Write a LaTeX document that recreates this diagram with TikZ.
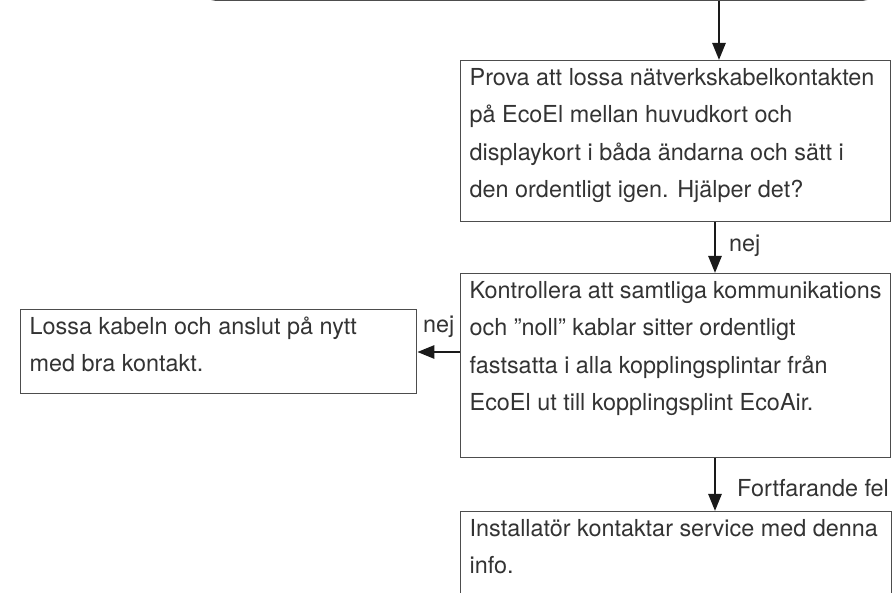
\documentclass[tikz,border=0pt]{standalone}
\usepackage{fontspec}
\setmainfont{TeX Gyre Heros}
\usetikzlibrary{arrows.meta,calc}
\definecolor{txtc}{HTML}{333333}
\definecolor{linec}{HTML}{4D4D4D}
\definecolor{arrc}{HTML}{1A1A1A}
\newcommand\boxcontent[3]{\parbox[t][#2][t]{#1}{\raggedright\rule{0pt}{24.5pt}#3}}
\begin{document}
\begin{tikzpicture}[x=1pt,y=-1pt,
  flowbox/.style={draw=linec, line width=1.3pt, rectangle, inner xsep=9pt, inner ysep=0pt,
    anchor=north west, text=txtc, font=\fontsize{23.4}{37.5}\selectfont},
  topbox/.style={draw=linec, line width=2.4pt, rectangle, rounded corners=12pt, inner sep=0pt,
    minimum width=670pt, minimum height=60pt, anchor=south west},
  arr/.style={draw=arrc, line width=2.6pt, -{Triangle[length=17pt,width=13pt]}},
  lbl/.style={anchor=base west, inner sep=0pt, text=txtc, font=\fontsize{23.4}{37.5}\selectfont}]
\useasboundingbox (0,0) rectangle (895,593);
\clip (0,0) rectangle (895,593);

\node[topbox] (top) at (203,1) {};

\node[flowbox] (b1) at (460,60) {\boxcontent{412pt}{161pt}{Prova att lossa nätverkskabelkontakten\\
på EcoEl mellan huvudkort och\\
displaykort i båda ändarna och sätt i\\
den ordentligt igen. Hjälper det?}};

\node[flowbox] (b2) at (460,273) {\boxcontent{412pt}{184pt}{Kontrollera att samtliga kommunikations\\
och ”noll” kablar sitter ordentligt\\
fastsatta i alla kopplingsplintar från\\
EcoEl ut till kopplingsplint EcoAir.}};

\node[flowbox] (lb) at (20,309) {\boxcontent{378pt}{84pt}{Lossa kabeln och anslut på nytt\\
med bra kontakt.}};

\node[flowbox] (b3) at (460,511) {\boxcontent{413pt}{130pt}{Installatör kontaktar service med denna\\
info.}};

\coordinate (c1) at (719,0);
\coordinate (c2) at (715,0);
\coordinate (c3) at (0,352);

\draw[arr] (top.south -| c1) -- (b1.north -| c1);
\draw[arr] (b1.south -| c2) -- (b2.north -| c2);
\draw[arr] (b2.west |- c3) -- (lb.east |- c3);
\draw[arr] (b2.south -| c2) -- (b3.north -| c2);

\node[lbl] (l1) at (729,252) {nej};
\node[lbl] (l2) at (423,333) {nej};
\node[lbl] (l3) at (737,497) {Fortfarande fel};
\end{tikzpicture}
\end{document}
